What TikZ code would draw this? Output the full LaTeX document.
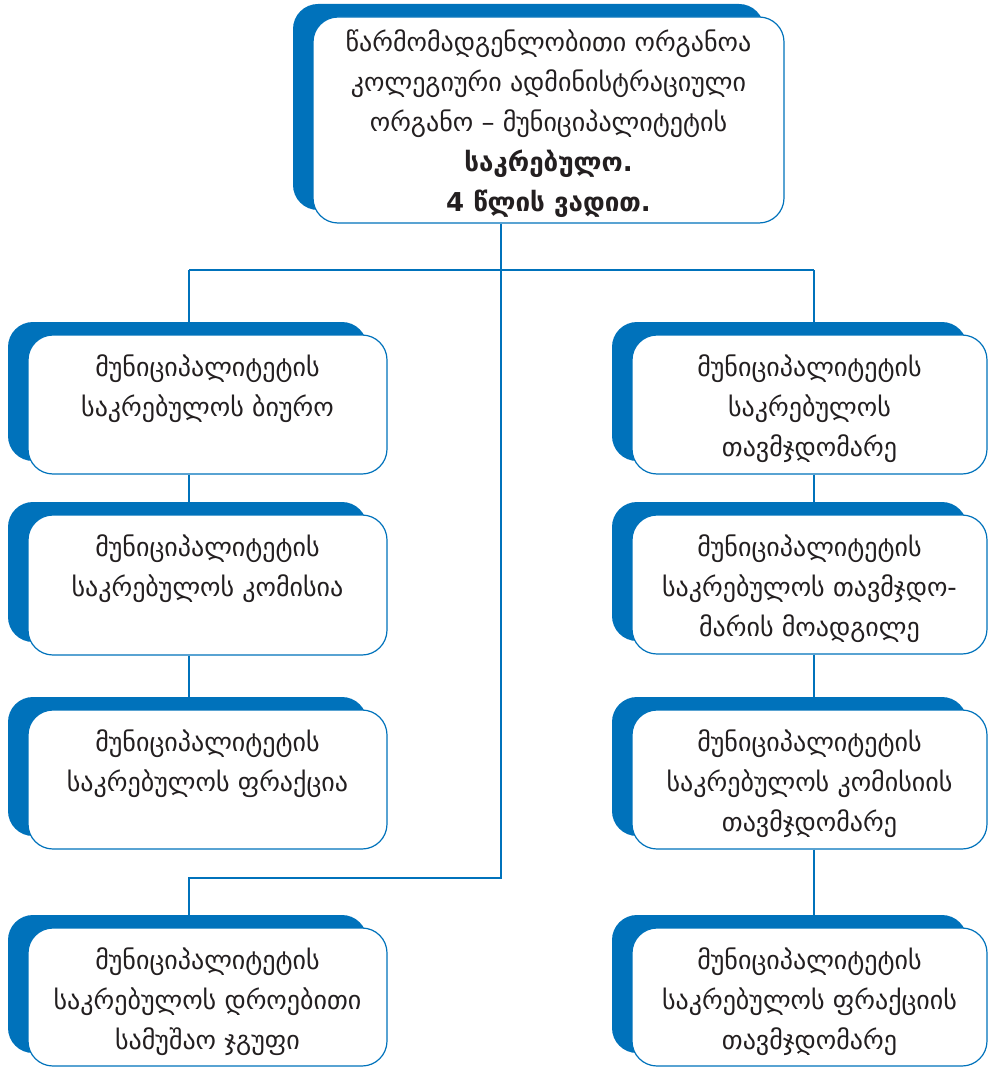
\documentclass[tikz,border=0pt]{standalone}
\usepackage{fontspec}
\setmainfont{DejaVu Sans}
\definecolor{myblue}{HTML}{0072BB}
\definecolor{ink}{HTML}{231F20}
\tikzset{
  shadowbox/.style={fill=myblue, rounded corners=25pt, inner sep=0pt, draw=none},
  whitebox/.style={fill=white, draw=myblue, line width=1.2pt, rounded corners=25pt, inner sep=0pt},
  txt/.style={align=center, inner sep=0pt, text=ink, font=\fontsize{26}{40}\selectfont},
  conn/.style={draw=myblue, line width=2.6pt},
}
\newcommand\orgbox[7]{%
  \node[shadowbox, minimum width={#4-#2}, minimum height={#5-#3}] (#1s) at ({(#2+#4)/2-20},{(#3+#5)/2-13}) {};
  \node[whitebox, minimum width={#4-#2}, minimum height={#5-#3}] (#1) at ({(#2+#4)/2},{(#3+#5)/2}) {};
  \node[txt, anchor=north] (#1t) at ([yshift=-#6pt]#1.north) {#7};
}
\begin{document}
\begin{tikzpicture}[x=1pt,y=-1pt]
\useasboundingbox (0,0) rectangle (988,1067);
\clip (0,0) rectangle (988,1067);
\coordinate (vT) at (501,270);
\coordinate (hL) at (189,270);
\coordinate (hR) at (814,270);
\coordinate (jB) at (501,878);
\coordinate (jL) at (189,878);
\orgbox{top}{313}{17}{784}{223}{13}{წარმომადგენლობითი ორგანოა\\კოლეგიური ადმინისტრაციული\\ორგანო – მუნიციპალიტეტის\\\textbf{საკრებულო.}\\\textbf{4 წლის ვადით.}}
\orgbox{la}{28}{335}{387}{474}{20}{მუნიციპალიტეტის\\საკრებულოს ბიურო}
\orgbox{lb}{28}{515}{387}{655}{20}{მუნიციპალიტეტის\\საკრებულოს კომისია}
\orgbox{lc}{28}{710}{387}{849}{20}{მუნიციპალიტეტის\\საკრებულოს ფრაქცია}
\orgbox{ld}{28}{928}{387}{1066}{20}{მუნიციპალიტეტის\\საკრებულოს დროებითი\\სამუშაო ჯგუფი}
\orgbox{ra}{632}{335}{987}{474}{20}{მუნიციპალიტეტის\\საკრებულოს\\თავმჯდომარე}
\orgbox{rb}{632}{515}{987}{654}{20}{მუნიციპალიტეტის\\საკრებულოს თავმჯდო-\\მარის მოადგილე}
\orgbox{rc}{632}{710}{987}{849}{20}{მუნიციპალიტეტის\\საკრებულოს კომისიის\\თავმჯდომარე}
\orgbox{rd}{632}{928}{987}{1066}{20}{მუნიციპალიტეტის\\საკრებულოს ფრაქციის\\თავმჯდომარე}
\begin{scope}[conn]
\draw (top.south -| vT) -- (jB) -- (jL) -- (jL |- lds.north);
\draw (hL) -- (hR);
\draw (hL) -- (hL |- las.north);
\draw (la.south -| hL) -- (hL |- lbs.north);
\draw (lb.south -| hL) -- (hL |- lcs.north);
\draw (hR) -- (hR |- ras.north);
\draw (ra.south -| hR) -- (hR |- rbs.north);
\draw (rb.south -| hR) -- (hR |- rcs.north);
\draw (rc.south -| hR) -- (hR |- rds.north);
\end{scope}
\end{tikzpicture}
\end{document}
